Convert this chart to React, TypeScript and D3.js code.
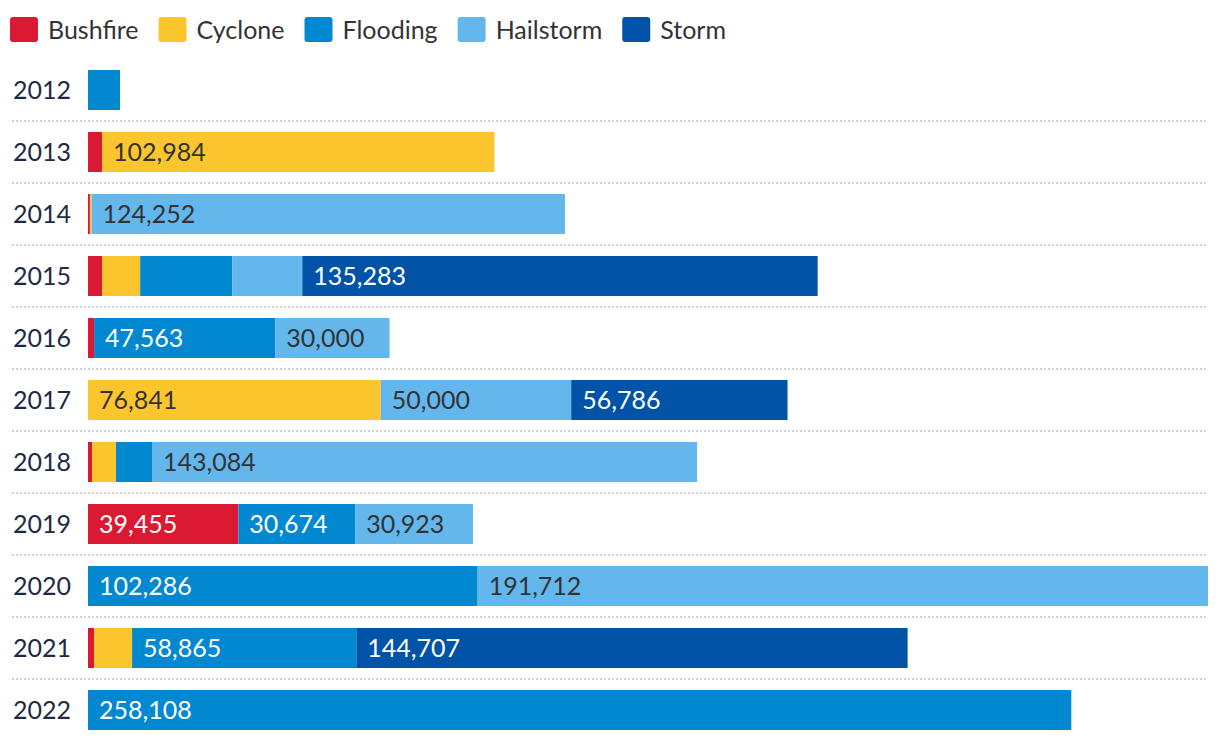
import * as d3 from 'd3'

const years = ['2012', '2013', '2014', '2015', '2016', '2017', '2018', '2019', '2020', '2021', '2022']
const categories = ['Bushfire', 'Cyclone', 'Flooding', 'Hailstorm', 'Storm']
const colors = ['#da1a32', '#fbc52e', '#0288d1', '#63b7ec', '#0053a6']
const labelColors = ['#ffffff', '#333333', '#ffffff', '#333333', '#ffffff']

// values per category, one entry per year
const bushfire = [0, 3700, 500, 3700, 1600, 0, 1050, 39455, 0, 1575, 0]
const cyclone = [0, 102984, 450, 10000, 0, 76841, 6300, 0, 0, 10000, 0]
const flooding = [8400, 0, 0, 24150, 47563, 0, 9450, 30674, 102286, 58865, 258108]
const hailstorm = [0, 0, 124252, 18400, 30000, 50000, 143084, 30923, 191712, 0, 0]
const storm = [0, 0, 0, 135283, 0, 56786, 0, 0, 0, 144707, 0]

const series = [bushfire, cyclone, flooding, hailstorm, storm]

const W = 1220
const H = 742
const FONT = 'Lato, "Noto Sans", sans-serif'
const FS = 25

export default function App() {
  const rows = years.map((y, i) => {
    const r: any = { year: y }
    categories.forEach((c, j) => (r[c] = series[j][i]))
    return r
  })
  const stacked = d3.stack().keys(categories)(rows)
  const maxTotal = d3.max(rows, (r: any) => d3.sum(categories, c => r[c])) as number

  const x = d3.scaleLinear().domain([0, maxTotal]).range([88, 1208])
  const y = d3.scaleBand().domain(years).range([59, 741]).paddingInner(22 / 62).paddingOuter(11 / 62)
  const bw = y.bandwidth()
  const fmt = d3.format(',')

  return (
    <div style={{ position: 'absolute', left: 0, top: 0 }}>
      <svg width={W} height={H} style={{ display: 'block', background: '#fff' }} fontFamily={FONT}>
        <Legend />
        {years.slice(0, -1).map(yr => (
          <line key={'sep' + yr} x1={12} x2={1208} y1={(y(yr) as number) + bw + 11} y2={(y(yr) as number) + bw + 11}
            stroke="#d2d2d2" strokeWidth={2} strokeDasharray="2 2" />
        ))}
        {years.map(yr => (
          <text key={'yl' + yr} x={13} y={(y(yr) as number) + bw / 2} dy="0.35em" fontSize={FS} fill="#1f2a44">{yr}</text>
        ))}
        {stacked.map((s, j) => (
          <g key={categories[j]}>
            {s.map((d: any, i) => {
              const x0 = x(d[0])
              const w = x(d[1]) - x(d[0])
              if (w <= 0) return null
              const yy = y(years[i]) as number
              return (
                <g key={i}>
                  <rect x={x0} y={yy} width={w} height={bw} fill={colors[j]} />
                  {w > 100 && (
                    <text x={x0 + 11} y={yy + bw / 2} dy="0.35em" fontSize={FS} fill={labelColors[j]}>
                      {fmt(d[1] - d[0])}
                    </text>
                  )}
                </g>
              )
            })}
          </g>
        ))}
      </svg>
    </div>
  )
}

function Legend() {
  const ref = (g: SVGGElement | null) => {
    if (!g) return
    const sel = d3.select(g)
    sel.selectAll('*').remove()
    let cx = 10
    categories.forEach((c, i) => {
      const item = sel.append('g').attr('transform', `translate(${cx},0)`)
      item.append('rect').attr('x', 0).attr('y', 17).attr('width', 28).attr('height', 25).attr('rx', 3).attr('fill', colors[i])
      const t = item.append('text').attr('x', 38).attr('y', 30).attr('dy', '0.35em')
        .attr('font-size', FS).attr('fill', '#333').text(c)
      const tw = (t.node() as SVGTextElement).getComputedTextLength()
      cx += 38 + tw + 20
    })
  }
  return <g ref={ref} fontFamily={FONT} />
}
